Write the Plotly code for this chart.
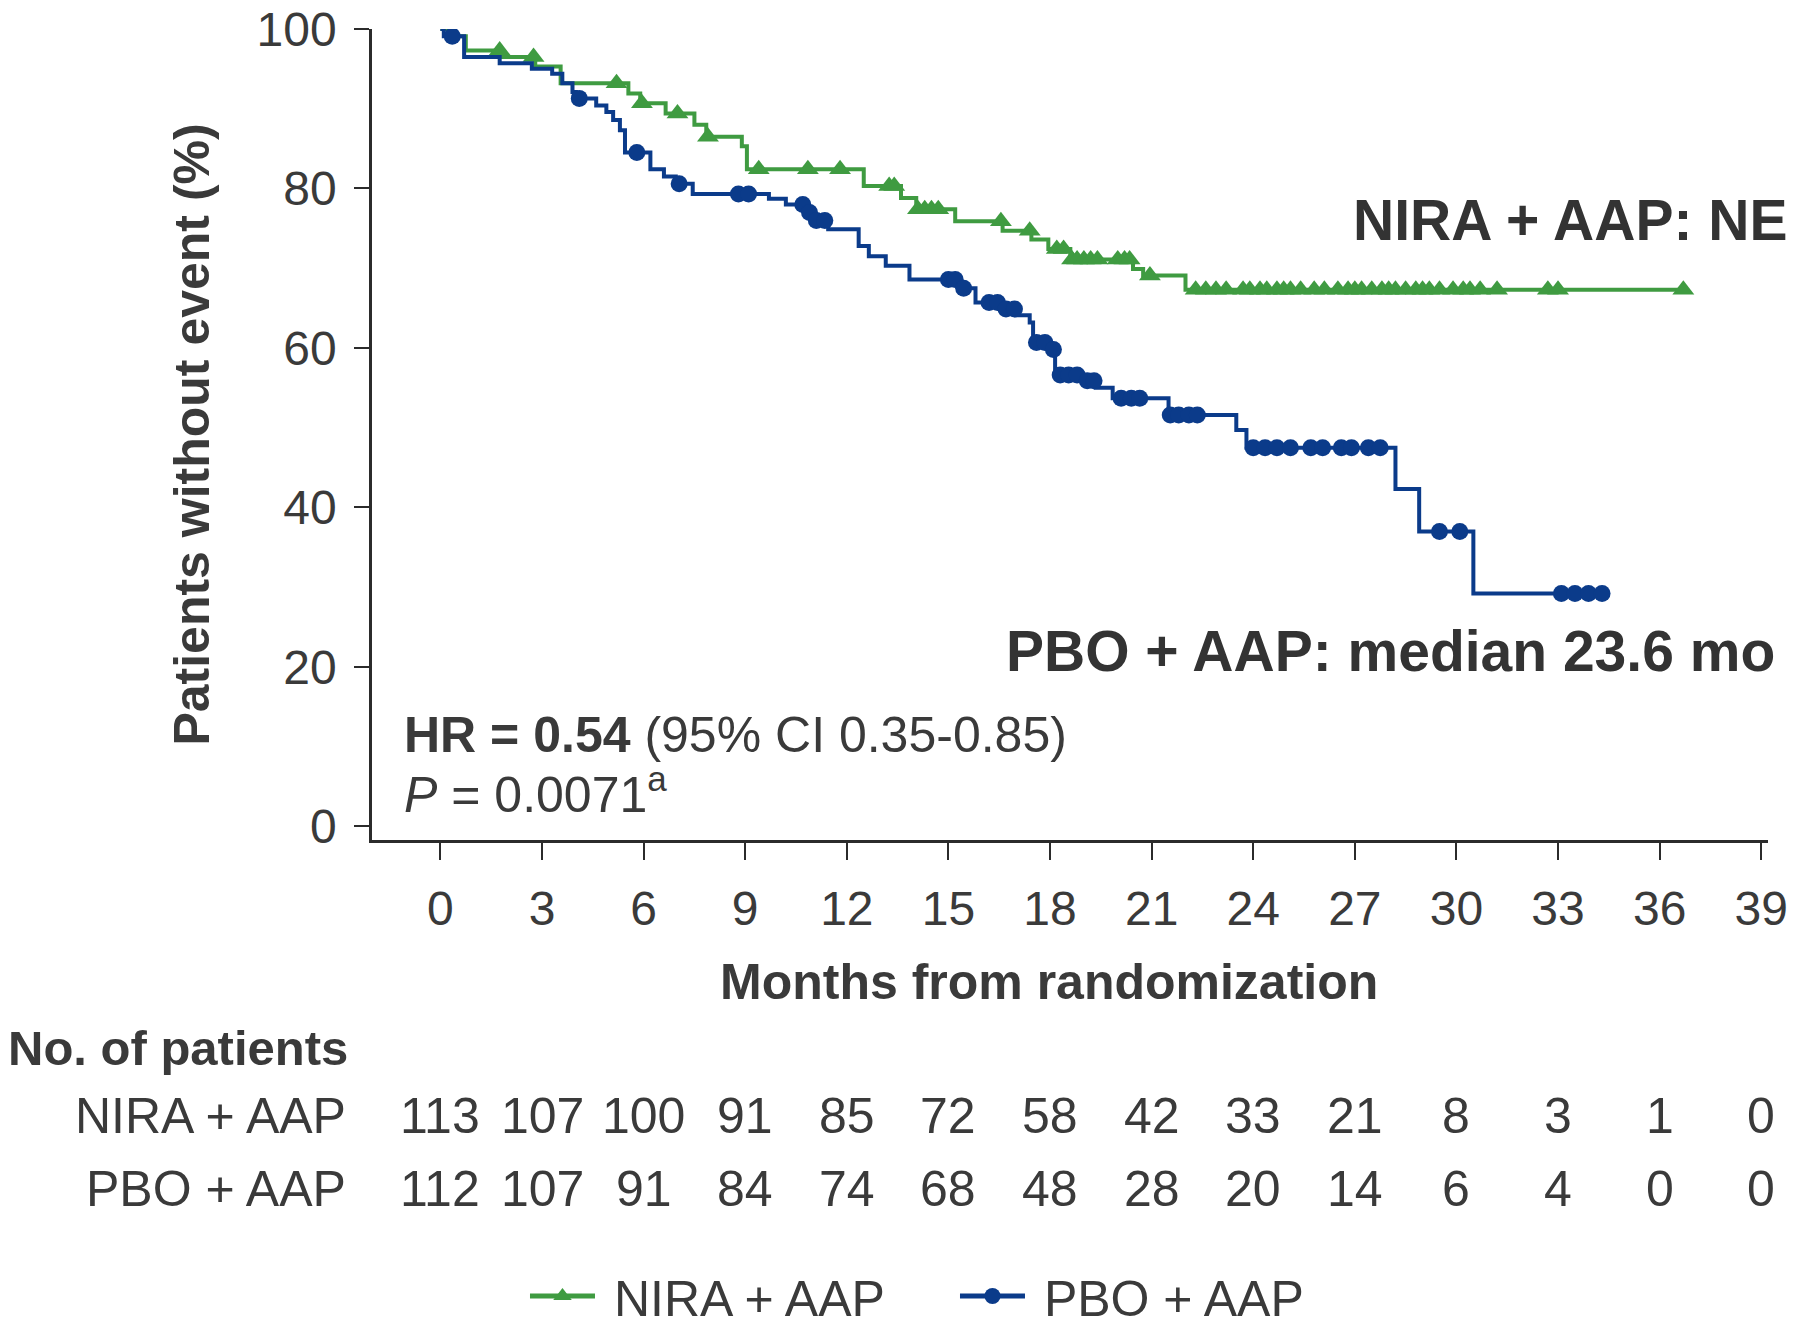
import plotly.graph_objects as go

# ---------------- data ----------------
tick_months = list(range(0, 40, 3))
nira_at_risk = [113, 107, 100, 91, 85, 72, 58, 42, 33, 21, 8, 3, 1, 0]
pbo_at_risk = [112, 107, 91, 84, 74, 68, 48, 28, 20, 14, 6, 4, 0, 0]

# NIRA + AAP Kaplan-Meier steps (time in months, % without event after step)
nira_t = [0, 0.3, 0.75, 1.8, 2.8, 3.55, 5.55, 5.9, 6.65, 7.5, 7.85, 8.9, 9.05,
          12.5, 13.6, 14.05, 15.2, 16.6, 17.45, 17.95, 18.6, 20.45, 20.75, 22.0]
nira_s = [100, 99.1, 97.3, 96.5, 95.3, 93.2, 91.9, 90.7, 89.4, 88.0, 86.5, 85.3, 82.4,
          80.3, 78.8, 77.4, 75.9, 74.7, 73.6, 72.4, 71.1, 69.9, 69.1, 67.3]
nira_end = 36.7
nira_censor = [1.75, 2.75, 5.2, 5.95, 7.0, 7.9, 9.4, 10.85, 11.8, 13.25, 13.4,
               14.1, 14.3, 14.5, 14.7, 16.55, 17.4, 18.2, 18.4, 18.65, 18.8, 19.0,
               19.2, 19.4, 20.0, 20.2, 20.35, 20.95, 22.3, 22.6, 22.9, 23.2, 23.7,
               23.9, 24.2, 24.4, 24.7, 24.9, 25.1, 25.4, 25.8, 26.1, 26.5, 26.8,
               27.0, 27.2, 27.5, 27.8, 28.0, 28.2, 28.5, 28.8, 29.0, 29.2, 29.5,
               29.9, 30.2, 30.4, 30.7, 31.2, 32.7, 33.0, 36.7]

# PBO + AAP Kaplan-Meier steps
pbo_t = [0, 0.1, 0.7, 1.75, 2.7, 3.3, 3.6, 3.9, 4.0, 4.6, 4.9, 5.1, 5.3, 5.45,
         6.2, 6.6, 6.95, 7.45, 9.7, 10.2, 10.75, 11.0, 11.45, 12.35, 12.65, 13.15,
         13.85, 15.3, 15.8, 16.5, 17.0, 17.4, 17.5, 18.0, 18.15, 19.0, 19.35,
         19.85, 21.5, 23.5, 23.8, 28.2, 28.9, 30.5]
pbo_s = [100, 99.1, 96.5, 95.7, 95.0, 94.4, 93.2, 92.1, 91.3, 90.4, 89.6, 88.6, 87.3, 84.5,
         82.4, 81.5, 80.6, 79.3, 78.7, 78.0, 77.0, 76.0, 74.9, 72.8, 71.5, 70.3,
         68.6, 67.5, 65.7, 64.9, 64.1, 63.2, 60.7, 59.8, 56.6, 55.9, 55.0,
         53.7, 51.6, 49.7, 47.5, 42.3, 37.0, 29.2]
pbo_end = 34.3
pbo_censor = [0.35, 4.1, 5.8, 7.05, 8.8, 9.1, 10.7, 10.9, 11.1, 11.35, 15.0, 15.2,
              15.45, 16.2, 16.45, 16.7, 16.95, 17.6, 17.85, 18.1, 18.3, 18.55, 18.8,
              19.1, 19.3, 20.1, 20.4, 20.65, 21.55, 21.8, 22.1, 22.35, 24.0, 24.35,
              24.7, 25.1, 25.7, 26.05, 26.6, 26.9, 27.4, 27.75, 29.5, 30.1, 33.1,
              33.5, 33.9, 34.3]

GREEN = "#3F9B41"
BLUE = "#0B3B8A"
TXT = "#3a3a3a"
FONT = "Liberation Sans, Arial, sans-serif"


def level_at(ts, ss, t):
    lvl = ss[0]
    for ti, si in zip(ts, ss):
        if ti <= t:
            lvl = si
    return lvl


fig = go.Figure()

for ts, ss, end, cens, color, sym, msize in [
    (nira_t, nira_s, nira_end, nira_censor, GREEN, "triangle-up", 19),
    (pbo_t, pbo_s, pbo_end, pbo_censor, BLUE, "circle", 17),
]:
    fig.add_trace(go.Scatter(
        x=ts + [end], y=ss + [ss[-1]], mode="lines", line=dict(color=color, width=4, shape="hv"),
        showlegend=False, hoverinfo="skip"))
    fig.add_trace(go.Scatter(
        x=cens, y=[level_at(ts, ss, c) for c in cens], mode="markers",
        marker=dict(symbol=sym, size=msize, color=color, line=dict(width=0)),
        showlegend=False))

# legend entries
fig.add_trace(go.Scatter(x=[None], y=[None], mode="lines+markers", name="\u00a0NIRA + AAP",
                         line=dict(color=GREEN, width=5),
                         marker=dict(symbol="triangle-up", size=16, color=GREEN)))
fig.add_trace(go.Scatter(x=[None], y=[None], mode="lines+markers", name="\u00a0PBO + AAP",
                         line=dict(color=BLUE, width=5),
                         marker=dict(symbol="circle", size=16, color=BLUE)))

X0, X1 = -2.02, 39.2
Y0, Y1 = -1.7, 100

fig.update_xaxes(range=[X0, X1], tickvals=tick_months, ticktext=[str(v) for v in tick_months],
                 automargin=False, ticklabeloverflow="allow",
                 showgrid=False, zeroline=False, showline=True, linecolor="#2b2b2b", linewidth=2.5,
                 ticks="outside", ticklen=17, tickwidth=2, tickcolor="#2b2b2b",
                 tickfont=dict(family=FONT, size=48, color=TXT), ticklabelstandoff=8)
fig.update_yaxes(range=[Y0, Y1], tickvals=[0, 20, 40, 60, 80, 100],
                 automargin=False, ticklabeloverflow="allow",
                 showgrid=False, zeroline=False, showline=True, linecolor="#2b2b2b", linewidth=2.5,
                 ticks="outside", ticklen=15, tickwidth=2, tickcolor="#2b2b2b",
                 tickfont=dict(family=FONT, size=48, color=TXT), ticklabelstandoff=8,
                 title=dict(text="<b>Patients without event (%)</b>",
                            font=dict(family=FONT, size=50, color=TXT), standoff=32))

ann = []
# x-axis title
ann.append(dict(text="<b>Months from randomization</b>", xref="paper", yref="paper",
                x=0.485, y=-0.175, xanchor="center", yanchor="middle", showarrow=False,
                font=dict(family=FONT, size=50, color=TXT)))
# curve labels
ann.append(dict(text="<b>NIRA + AAP: NE</b>", xref="paper", yref="paper", x=1.015, y=0.765,
                xanchor="right", yanchor="middle", showarrow=False,
                font=dict(family=FONT, size=57, color="#333333")))
ann.append(dict(text="<b>PBO + AAP: median 23.6 mo</b>", xref="paper", yref="paper", x=1.0065,
                y=0.233, xanchor="right", yanchor="middle", showarrow=False,
                font=dict(family=FONT, size=57, color="#333333")))
# HR text
ann.append(dict(text="<b>HR = 0.54</b> (95% CI 0.35-0.85)", xref="paper", yref="paper",
                x=0.0215, y=0.130, xanchor="left", yanchor="middle", showarrow=False,
                font=dict(family=FONT, size=50, color=TXT)))
ann.append(dict(text="<i>P</i> = 0.0071<sup>a</sup>", xref="paper", yref="paper",
                x=0.0215, y=0.060, xanchor="left", yanchor="middle", showarrow=False,
                font=dict(family=FONT, size=50, color=TXT)))
# number at risk
ann.append(dict(text="<b>No. of patients</b>", xref="paper", yref="paper", x=-0.262, y=-0.2565,
                xanchor="left", yanchor="middle", showarrow=False,
                font=dict(family=FONT, size=49, color=TXT)))
for label, vals, yp in [("NIRA + AAP", nira_at_risk, -0.3403), ("PBO + AAP", pbo_at_risk, -0.4303)]:
    ann.append(dict(text=label, xref="paper", yref="paper", x=-0.0172, y=yp,
                    xanchor="right", yanchor="middle", showarrow=False,
                    font=dict(family=FONT, size=50, color=TXT)))
    for m, v in zip(tick_months, vals):
        ann.append(dict(text=str(v), xref="x", yref="paper", x=m, y=yp,
                        xanchor="center", yanchor="middle", showarrow=False,
                        font=dict(family=FONT, size=50, color=TXT)))

# the page body adds an 8 px offset; the figure is sized to fill the rest of the window
fig.update_layout(
    width=1792, height=1319,
    margin=dict(l=364, r=32, t=21, b=487),
    plot_bgcolor="white", paper_bgcolor="white",
    annotations=ann,
    legend=dict(orientation="h", xref="container", yref="container", x=0.2885, y=0.0235,
                xanchor="left", yanchor="middle",
                font=dict(family=FONT, size=50, color=TXT), itemwidth=65,
                entrywidth=350, bgcolor="rgba(0,0,0,0)"),
)

fig.write_html("out.html")
